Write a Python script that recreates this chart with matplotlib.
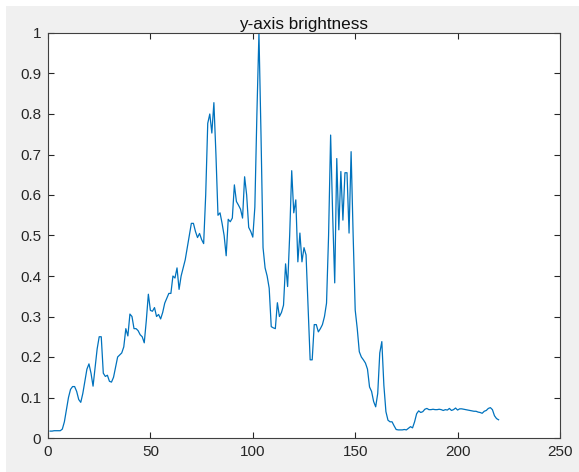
import matplotlib
matplotlib.use('Agg')
import matplotlib.pyplot as plt
from matplotlib.patches import Rectangle

# brightness profile along the y axis, one value per row
rows = list(range(1, 221))
brightness = [
    0.017, 0.017, 0.018, 0.018, 0.018, 0.018, 0.022, 0.040, 0.070, 0.100,
    0.120, 0.127, 0.127, 0.115, 0.095, 0.088, 0.110, 0.140, 0.170, 0.183,
    0.160, 0.128, 0.175, 0.220, 0.250, 0.250, 0.160, 0.152, 0.155, 0.140,
    0.138, 0.150, 0.175, 0.200, 0.205, 0.210, 0.225, 0.270, 0.252, 0.306,
    0.300, 0.270, 0.270, 0.265, 0.255, 0.250, 0.235, 0.290, 0.355, 0.315,
    0.313, 0.322, 0.300, 0.305, 0.294, 0.310, 0.333, 0.345, 0.357, 0.357,
    0.400, 0.395, 0.420, 0.367, 0.400, 0.420, 0.440, 0.470, 0.500, 0.530,
    0.530, 0.510, 0.495, 0.505, 0.490, 0.480, 0.600, 0.777, 0.800, 0.753,
    0.828, 0.700, 0.550, 0.556, 0.530, 0.500, 0.450, 0.540, 0.534, 0.543,
    0.625, 0.584, 0.575, 0.565, 0.543, 0.645, 0.600, 0.520, 0.510, 0.496,
    0.570, 0.800, 1.000, 0.750, 0.470, 0.420, 0.400, 0.370, 0.275, 0.272,
    0.270, 0.334, 0.300, 0.310, 0.328, 0.430, 0.374, 0.500, 0.660, 0.556,
    0.588, 0.435, 0.506, 0.435, 0.470, 0.452, 0.320, 0.193, 0.193, 0.280,
    0.280, 0.262, 0.270, 0.280, 0.300, 0.333, 0.500, 0.748, 0.550, 0.383,
    0.690, 0.514, 0.658, 0.538, 0.655, 0.655, 0.506, 0.707, 0.500, 0.316,
    0.270, 0.213, 0.200, 0.193, 0.185, 0.170, 0.126, 0.115, 0.090, 0.077,
    0.110, 0.210, 0.238, 0.130, 0.065, 0.044, 0.040, 0.040, 0.030, 0.021,
    0.020, 0.020, 0.020, 0.021, 0.020, 0.024, 0.028, 0.025, 0.040, 0.060,
    0.067, 0.063, 0.065, 0.071, 0.073, 0.070, 0.070, 0.071, 0.070, 0.070,
    0.071, 0.070, 0.068, 0.070, 0.069, 0.073, 0.068, 0.070, 0.074, 0.069,
    0.072, 0.072, 0.071, 0.070, 0.069, 0.068, 0.067, 0.066, 0.066, 0.064,
    0.063, 0.061, 0.066, 0.068, 0.073, 0.075, 0.070, 0.055, 0.048, 0.045,
]

x_ticks = [0, 50, 100, 150, 200, 250]
y_ticks = [0, 0.1, 0.2, 0.3, 0.4, 0.5, 0.6, 0.7, 0.8, 0.9, 1]
y_labels = ['0', '0.1', '0.2', '0.3', '0.4', '0.5', '0.6', '0.7', '0.8', '0.9', '1']

plt.rcParams['font.family'] = ['Liberation Sans', 'DejaVu Sans']

fig = plt.figure(figsize=(5.79, 4.72), dpi=100, facecolor='white')
# matlab-style grey window with a thin white strip top and left
fig.patches.append(Rectangle((6 / 579, 0), 1, 1 - 6 / 472, transform=fig.transFigure,
                             facecolor='#f0f0f0', edgecolor='none', zorder=-10))

ax = fig.add_axes([48 / 579, 34 / 472, 512 / 579, 405 / 472])
ax.plot(rows, brightness, color='#0072BD', linewidth=0.9)

ax.set_xlim(0, 250)
ax.set_ylim(0, 1)
ax.set_xticks(x_ticks)
ax.set_yticks(y_ticks)
ax.set_yticklabels(y_labels)
ax.tick_params(direction='in', length=4, width=0.8, colors='#262626', labelsize=11,
               top=True, right=True, labeltop=False, labelright=False, pad=5)
for s in ax.spines.values():
    s.set_color('#404040')
    s.set_linewidth(0.8)

ax.set_title('y-axis brightness', fontsize=12.3, color='#111111', pad=3)

fig.savefig('out.png', dpi=100, facecolor=fig.get_facecolor())
